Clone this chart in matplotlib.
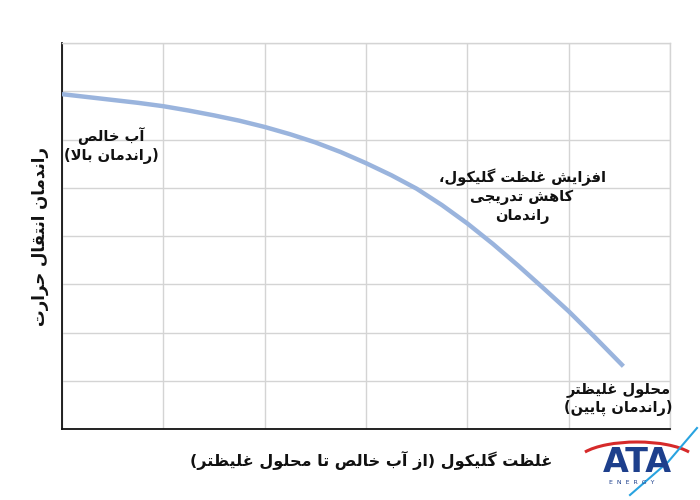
import matplotlib
matplotlib.use('Agg')
import matplotlib.pyplot as plt
import matplotlib.patches as patches
from matplotlib.lines import Line2D

# glycol share (arbitrary 0-60 scale) vs heat-transfer efficiency (arbitrary)
glycol = [0, 2.5, 5, 7.5, 10, 12.5, 15, 17.5, 20, 22.5, 25, 27.5, 30,
          32.5, 35, 37.5, 40, 42.5, 45, 47.5, 50, 52.5, 55.4]
efficiency = [94.7, 94.4, 94.1, 93.8, 93.45, 93.0, 92.5, 91.95, 91.3, 90.55, 89.7, 88.7, 87.55,
              86.3, 84.9, 83.2, 81.3, 79.2, 76.95, 74.6, 72.2, 69.6, 66.5]

x_ticks = [0, 10, 20, 30, 40, 50, 60]
y_ticks = [60, 65, 70, 75, 80, 85, 90, 95, 100]

x_label = 'غلظت گلیکول (از آب خالص تا محلول غلیظتر)'
y_label = 'راندمان انتقال حرارت'
notes = [
    ('آب خالص\n(راندمان بالا)', 4.9, 89.4),
    ('افزایش غلظت گلیکول،\nکاهش تدریجی\nراندمان', 45.4, 84.1),
    ('محلول غلیظتر\n(راندمان پایین)', 54.9, 63.1),
]

# --- minimal Persian shaping (matplotlib has no complex text layout) ---
FORMS = {
    'ا': ('\uFE8D', '\uFE8E', None, None),
    'آ': ('\uFE81', '\uFE82', None, None),
    'ب': ('\uFE8F', '\uFE90', '\uFE91', '\uFE92'),
    'پ': ('\uFB56', '\uFB57', '\uFB58', '\uFB59'),
    'ت': ('\uFE95', '\uFE96', '\uFE97', '\uFE98'),
    'ج': ('\uFE9D', '\uFE9E', '\uFE9F', '\uFEA0'),
    'ح': ('\uFEA1', '\uFEA2', '\uFEA3', '\uFEA4'),
    'خ': ('\uFEA5', '\uFEA6', '\uFEA7', '\uFEA8'),
    'د': ('\uFEA9', '\uFEAA', None, None),
    'ر': ('\uFEAD', '\uFEAE', None, None),
    'ز': ('\uFEAF', '\uFEB0', None, None),
    'ش': ('\uFEB5', '\uFEB6', '\uFEB7', '\uFEB8'),
    'ص': ('\uFEB9', '\uFEBA', '\uFEBB', '\uFEBC'),
    'ظ': ('\uFEC5', '\uFEC6', '\uFEC7', '\uFEC8'),
    'غ': ('\uFECD', '\uFECE', '\uFECF', '\uFED0'),
    'ف': ('\uFED1', '\uFED2', '\uFED3', '\uFED4'),
    'ق': ('\uFED5', '\uFED6', '\uFED7', '\uFED8'),
    '\u06A9': ('\uFB8E', '\uFB8F', '\uFB90', '\uFB91'),
    'گ': ('\uFB92', '\uFB93', '\uFB94', '\uFB95'),
    'ل': ('\uFEDD', '\uFEDE', '\uFEDF', '\uFEE0'),
    'م': ('\uFEE1', '\uFEE2', '\uFEE3', '\uFEE4'),
    'ن': ('\uFEE5', '\uFEE6', '\uFEE7', '\uFEE8'),
    'ه': ('\uFEE9', '\uFEEA', '\uFEEB', '\uFEEC'),
    'و': ('\uFEED', '\uFEEE', None, None),
    '\u06CC': ('\uFBFC', '\uFBFD', '\uFBFE', '\uFBFF'),
}
LAM_ALEF = {'ا': ('\uFEFB', '\uFEFC'), 'آ': ('\uFEF5', '\uFEF6')}


def shape_run(run):
    out = []
    i = 0
    while i < len(run):
        ch = run[i]
        prev = run[i - 1] if i > 0 else None
        prev_joins = prev is not None and FORMS[prev][2] is not None
        if ch == 'ل' and i + 1 < len(run) and run[i + 1] in LAM_ALEF:
            out.append(LAM_ALEF[run[i + 1]][1 if prev_joins else 0])
            i += 2
            continue
        iso, fin, ini, med = FORMS[ch]
        nxt = i + 1 < len(run)
        if prev_joins and nxt and med:
            out.append(med)
        elif prev_joins:
            out.append(fin)
        elif nxt and ini:
            out.append(ini)
        else:
            out.append(iso)
        i += 1
    return ''.join(out)


def split_runs(line):
    line = line.replace('\u064A', '\u06CC').replace('\u0643', '\u06A9')
    runs, cur, is_ar = [], '', None
    for ch in line:
        a = ch in FORMS
        if is_ar is None or a == is_ar:
            cur += ch
        else:
            runs.append((is_ar, cur))
            cur = ch
        is_ar = a
    if cur:
        runs.append((is_ar, cur))
    return runs


def fa(text):
    # shape each line and put it in visual (right-to-left) order
    lines = []
    for line in text.split('\n'):
        s = ''.join(shape_run(r) if a else r for a, r in split_runs(line))[::-1]
        lines.append(s.translate(str.maketrans('()', ')(')))
    return '\n'.join(lines)


FONT = ['DejaVu Sans']

fig = plt.figure(figsize=(7, 5), dpi=100)
ax = fig.add_axes([62 / 700, 71 / 500, 608 / 700, 386 / 500])

ax.plot(glycol, efficiency, color='#9ab4dd', linewidth=3.2,
        solid_capstyle='butt', solid_joinstyle='round', zorder=3)

ax.set_xlim(0, 60)
ax.set_ylim(60, 100)
ax.set_xticks(x_ticks)
ax.set_yticks(y_ticks)
ax.grid(True, color='#d4d4d4', linewidth=1.0)
ax.tick_params(length=0, labelbottom=False, labelleft=False)
for side in ['top', 'right']:
    ax.spines[side].set_color('#d4d4d4')
    ax.spines[side].set_linewidth(1.0)
for side in ['left', 'bottom']:
    ax.spines[side].set_color('#111111')
    ax.spines[side].set_linewidth(1.3)

for txt, x, y in notes:
    ax.text(x, y, fa(txt), ha='center', va='center', multialignment='center',
            fontsize=10.5, fontweight='bold', family=FONT, color='#111111',
            linespacing=1.25, zorder=4)

fig.text(0.53, 0.08, fa(x_label), ha='center', va='center',
         fontsize=11.5, fontweight='bold', family=FONT, color='#111111')
fig.text(0.057, 0.528, fa(y_label), ha='center', va='center', rotation=90,
         fontsize=12, fontweight='bold', family=FONT, color='#111111')

# ATA Energy logo, bottom right
fig.patches.append(patches.Arc((637 / 700, 1 - 462 / 500), 120 / 700, 40 / 500,
                               theta1=15, theta2=165, color='#d62a2a', linewidth=2.2,
                               transform=fig.transFigure))
fig.text(637 / 700, 1 - 462 / 500, 'ATA', ha='center', va='center', fontsize=24,
         fontweight='bold', family='DejaVu Sans', color='#1d3f8c')
fig.text(632 / 700, 1 - 482 / 500, 'E  N  E  R  G  Y', ha='center', va='center',
         fontsize=4.5, family='DejaVu Sans', color='#1d3f8c')
fig.add_artist(Line2D([697 / 700, 668 / 700, 630 / 700],
                      [1 - 428 / 500, 1 - 462 / 500, 1 - 495 / 500],
                      color='#29a3e0', linewidth=1.5, transform=fig.transFigure))

fig.savefig('out.png', dpi=100)
